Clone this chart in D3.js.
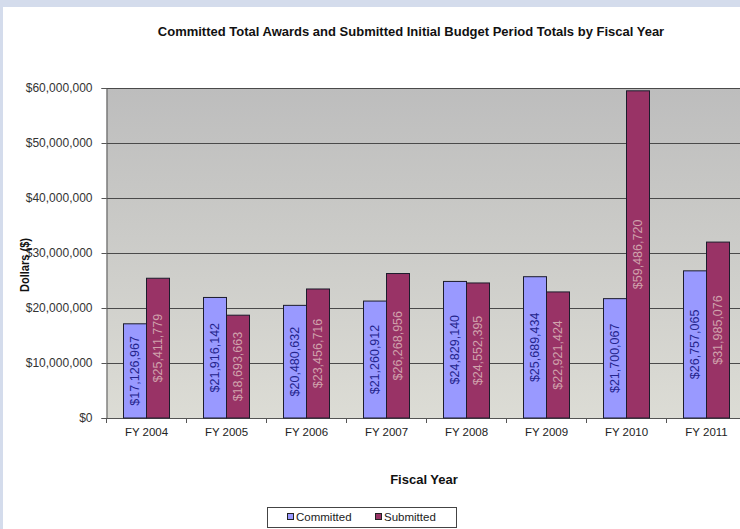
<!DOCTYPE html>
<html>
<head>
<meta charset="utf-8">
<script src="https://cdn.jsdelivr.net/npm/d3@7"></script>
<style>
  html, body { margin: 0; padding: 0; background: #d4dcec; }
  svg { display: block; }
  text { font-family: "Liberation Sans", Arial, sans-serif; }
</style>
</head>
<body>
<svg id="chart" width="740" height="529"></svg>
<script>
// Fiscal years shown along the x axis
const fiscalYears = ["FY 2004", "FY 2005", "FY 2006", "FY 2007", "FY 2008", "FY 2009", "FY 2010", "FY 2011"];
// Committed total awards (dollars)
const committed = [17126967, 21916142, 20480632, 21260912, 24829140, 25689434, 21700067, 26757065];
// Submitted initial budget period totals (dollars)
const submitted = [25411779, 18693663, 23456716, 26268956, 24552395, 22921424, 59486720, 31985076];
const seriesNames = ["Committed", "Submitted"];
const seriesColors = ["#9999ff", "#993366"];
const labelColors = ["#24248c", "#d0a2ac"];
const yTicks = [0, 10000000, 20000000, 30000000, 40000000, 50000000, 60000000];

const svg = d3.select("#chart");
const W = 740, H = 529;

// page backdrop and white chart sheet
svg.append("rect").attr("width", W).attr("height", H).attr("fill", "#d4dcec");
svg.append("rect").attr("x", 3).attr("y", 7).attr("width", W - 3).attr("height", H - 7).attr("fill", "#ffffff");

const plot = { left: 106.5, top: 88, bottom: 418, right: 746.5 };

const x = d3.scaleBand().domain(fiscalYears).range([plot.left, plot.right]).padding(0);
const xInner = d3.scaleBand().domain(seriesNames).range([17, 63]).padding(0);
const y = d3.scaleLinear().domain([0, 60000000]).range([plot.bottom, plot.top]);

// plot area background
const defs = svg.append("defs");
const grad = defs.append("linearGradient").attr("id", "plotBg").attr("x1", 0).attr("y1", 0).attr("x2", 0).attr("y2", 1);
grad.append("stop").attr("offset", "0%").attr("stop-color", "#bdbdbd");
grad.append("stop").attr("offset", "100%").attr("stop-color", "#dcdcd5");
svg.append("rect")
  .attr("x", plot.left).attr("y", plot.top)
  .attr("width", plot.right - plot.left).attr("height", plot.bottom - plot.top)
  .attr("fill", "url(#plotBg)");

// horizontal gridlines
svg.append("g").selectAll("line").data(yTicks.slice(1)).join("line")
  .attr("x1", plot.left).attr("x2", plot.right)
  .attr("y1", d => Math.round(y(d)) + 0.5).attr("y2", d => Math.round(y(d)) + 0.5)
  .attr("stroke", "#4a4a4a").attr("stroke-width", 1);

// y axis
const fmt = d3.format("$,.0f");
const yAxis = svg.append("g")
  .attr("transform", `translate(${plot.left},0)`)
  .call(d3.axisLeft(y).tickValues(yTicks).tickFormat(fmt).tickSize(5).tickPadding(9));
yAxis.select(".domain").attr("stroke", "#555");
yAxis.selectAll(".tick line").attr("stroke", "#555");
yAxis.selectAll("text").attr("font-size", 12).attr("fill", "#333")
  .attr("font-family", "\"Liberation Sans\", Arial, sans-serif");

// x axis labels
const xAxis = svg.append("g")
  .attr("transform", `translate(0,${plot.bottom})`)
  .call(d3.axisBottom(x).tickSize(0).tickPadding(10));
xAxis.select(".domain").remove();
xAxis.selectAll("text").attr("font-size", 11.5).attr("fill", "#222")
  .attr("font-family", "\"Liberation Sans\", Arial, sans-serif");

// x axis line and tick marks between categories
svg.append("line")
  .attr("x1", plot.left).attr("x2", plot.right)
  .attr("y1", plot.bottom + 0.5).attr("y2", plot.bottom + 0.5)
  .attr("stroke", "#555");
svg.append("g").selectAll("line").data(fiscalYears).join("line")
  .attr("x1", d => x(d)).attr("x2", d => x(d))
  .attr("y1", plot.bottom).attr("y2", plot.bottom + 5)
  .attr("stroke", "#555");

// bars
const rows = fiscalYears.map((fy, i) => ({ fy, values: [committed[i], submitted[i]] }));
const groups = svg.append("g").selectAll("g").data(rows).join("g")
  .attr("transform", d => `translate(${x(d.fy)},0)`);

groups.selectAll("rect").data(d => d.values.map((v, k) => ({ v, k }))).join("rect")
  .attr("x", d => xInner(seriesNames[d.k]))
  .attr("y", d => y(d.v))
  .attr("width", xInner.bandwidth())
  .attr("height", d => y(0) - y(d.v))
  .attr("fill", d => seriesColors[d.k])
  .attr("stroke", "#1c1c2c").attr("stroke-width", 1);

// value labels, rotated and centred in each bar
const valFmt = d3.format("$,");
groups.selectAll("text.val").data(d => d.values.map((v, k) => ({ v, k }))).join("text")
  .attr("class", "val")
  .attr("transform", d => `translate(${xInner(seriesNames[d.k]) + xInner.bandwidth() / 2},${(y(d.v) + y(0)) / 2}) rotate(-90)`)
  .attr("text-anchor", "middle")
  .attr("dominant-baseline", "central")
  .attr("font-size", 12.5)
  .attr("fill", d => labelColors[d.k])
  .text(d => valFmt(d.v));

// title
svg.append("text")
  .attr("x", 411).attr("y", 36)
  .attr("text-anchor", "middle")
  .attr("font-size", 13).attr("font-weight", "bold").attr("fill", "#111")
  .text("Committed Total Awards and Submitted Initial Budget Period Totals by Fiscal Year");

// axis titles
svg.append("text")
  .attr("transform", "translate(29,265) rotate(-90)")
  .attr("text-anchor", "middle")
  .attr("font-size", 12).attr("font-weight", "bold").attr("fill", "#111")
  .attr("textLength", 54).attr("lengthAdjust", "spacingAndGlyphs")
  .text("Dollars ($)");
svg.append("text")
  .attr("x", 424).attr("y", 484)
  .attr("text-anchor", "middle")
  .attr("font-size", 13).attr("font-weight", "bold").attr("fill", "#111")
  .text("Fiscal Year");

// legend
const legend = svg.append("g");
legend.append("rect")
  .attr("x", 267.5).attr("y", 507.5).attr("width", 189).attr("height", 20)
  .attr("fill", "#fff").attr("stroke", "#444");
const legendX = [287, 375];
seriesNames.forEach((name, k) => {
  legend.append("rect")
    .attr("x", legendX[k] + 0.5).attr("y", 513.5).attr("width", 6).attr("height", 6)
    .attr("fill", seriesColors[k]).attr("stroke", "#222");
  legend.append("text")
    .attr("x", legendX[k] + 9).attr("y", 521)
    .attr("font-size", 11.5).attr("fill", "#222")
    .text(name);
});
</script>
</body>
</html>
